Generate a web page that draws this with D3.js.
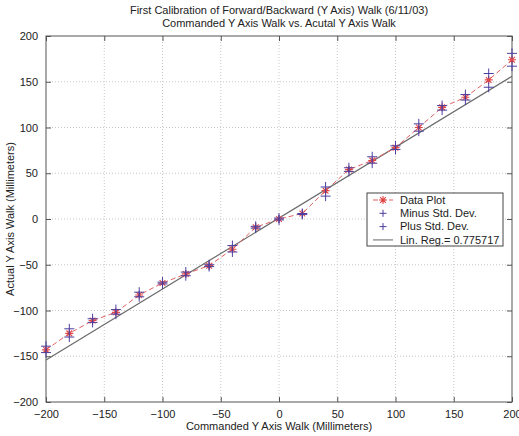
<!DOCTYPE html>
<meta charset="utf-8">
<script src="https://d3js.org/d3.v7.min.js"></script>
<style>
  body { margin: 0; background: #fff; }
  text { font-family: "Liberation Sans", Arial, sans-serif; fill: #222; }
</style>
<div id="my_dataviz"></div>
<script>

  // commanded walk (x) and measured walk (y), millimeters
  var commanded = [-200, -180, -160, -140, -120, -100, -80, -60, -40, -20, 0,
    20, 40, 60, 80, 100, 120, 140, 160, 180, 200];
  var actual = [-143, -125, -111, -102, -83, -70, -60, -51, -33, -9, 0,
    6, 31, 54, 64, 78, 100, 122, 133, 152, 174];
  var minusStd = [-146, -129, -113, -104, -85, -71, -62, -52, -36, -10, -1,
    5, 25, 52, 61, 76, 96, 119, 130, 144, 167];
  var plusStd = [-139, -120, -109, -99, -80, -69, -58, -50, -29, -8, 1,
    6, 35, 56, 68, 80, 104, 124, 136, 159, 181];
  // linear regression line end points
  var regX = [-200, 200];
  var regY = [-154, 156];

  var xTicks = [-200, -150, -100, -50, 0, 50, 100, 150, 200];
  var yTicks = [-200, -150, -100, -50, 0, 50, 100, 150, 200];
  var legendLabels = ["Data Plot", "Minus Std. Dev.", "Plus Std. Dev.", "Lin. Reg.= 0.775717"];

  var margin = { top: 36, right: 7, bottom: 34, left: 46 },
    width = 519 - margin.left - margin.right,
    height = 436 - margin.top - margin.bottom;

  var svgRoot = d3.select("#my_dataviz")
    .append("svg")
    .attr("width", 519)
    .attr("height", 436);

  var svg = svgRoot.append("g")
    .attr("transform", "translate(" + margin.left + "," + margin.top + ")");

  var x = d3.scaleLinear().domain([-200, 200]).range([0, width]);
  var y = d3.scaleLinear().domain([-200, 200]).range([height, 0]);

  // grid
  svg.append("g").selectAll("line").data(xTicks.slice(1, -1)).join("line")
    .attr("x1", d => x(d)).attr("x2", d => x(d))
    .attr("y1", 0).attr("y2", height)
    .attr("stroke", "#c8c8c8").attr("stroke-dasharray", "1,2");
  svg.append("g").selectAll("line").data(yTicks.slice(1, -1)).join("line")
    .attr("y1", d => y(d)).attr("y2", d => y(d))
    .attr("x1", 0).attr("x2", width)
    .attr("stroke", "#c8c8c8").attr("stroke-dasharray", "1,2");

  // axes with inward ticks on all sides
  function styleAxis(g) {
    g.select(".domain").remove();
    g.selectAll("line").attr("stroke", "#555");
    g.selectAll("text").attr("font-size", 11).attr("fill", "#222")
      .style("font-family", "Liberation Sans, Arial, sans-serif");
  }
  svg.append("g").attr("transform", "translate(0," + height + ")")
    .call(d3.axisBottom(x).tickValues(xTicks).tickSizeInner(-5).tickPadding(8))
    .call(styleAxis);
  svg.append("g")
    .call(d3.axisLeft(y).tickValues(yTicks).tickSizeInner(-5).tickPadding(8))
    .call(styleAxis);
  svg.append("g")
    .call(d3.axisTop(x).tickValues(xTicks).tickSizeInner(-5).tickFormat(""))
    .call(styleAxis);
  svg.append("g").attr("transform", "translate(" + width + ",0)")
    .call(d3.axisRight(y).tickValues(yTicks).tickSizeInner(-5).tickFormat(""))
    .call(styleAxis);
  svg.append("rect").attr("width", width).attr("height", height)
    .attr("fill", "none").attr("stroke", "#555");

  // regression line
  svg.append("path")
    .datum(regX.map((d, i) => [d, regY[i]]))
    .attr("fill", "none").attr("stroke", "#6a6a6a").attr("stroke-width", 1.2)
    .attr("d", d3.line().x(d => x(d[0])).y(d => y(d[1])));

  // data plot dashed line
  var pts = commanded.map((d, i) => [d, actual[i]]);
  svg.append("path")
    .datum(pts)
    .attr("fill", "none").attr("stroke", "#e06060").attr("stroke-width", 1)
    .attr("stroke-dasharray", "5,3")
    .attr("d", d3.line().x(d => x(d[0])).y(d => y(d[1])));

  function plus(g, cx, cy, s, color) {
    g.append("path")
      .attr("d", "M" + (cx - s) + "," + cy + "H" + (cx + s) + "M" + cx + "," + (cy - s) + "V" + (cy + s))
      .attr("stroke", color).attr("stroke-width", 1).attr("fill", "none");
  }
  function star(g, cx, cy, s, color) {
    var d = s * 0.72;
    g.append("path")
      .attr("d", "M" + (cx - s) + "," + cy + "H" + (cx + s) +
        "M" + cx + "," + (cy - s) + "V" + (cy + s) +
        "M" + (cx - d) + "," + (cy - d) + "L" + (cx + d) + "," + (cy + d) +
        "M" + (cx - d) + "," + (cy + d) + "L" + (cx + d) + "," + (cy - d))
      .attr("stroke", color).attr("stroke-width", 1.1).attr("fill", "none");
  }

  var marks = svg.append("g");
  commanded.forEach(function (c, i) {
    star(marks, x(c), y(actual[i]), 4, "#e04848");
  });
  commanded.forEach(function (c, i) {
    plus(marks, x(c), y(minusStd[i]), 5, "#4a3fa0");
    plus(marks, x(c), y(plusStd[i]), 5, "#4a3fa0");
  });

  // legend
  var lg = svgRoot.append("g").attr("transform", "translate(367,193)");
  lg.append("rect").attr("width", 136).attr("height", 53)
    .attr("fill", "#fff").attr("stroke", "#444");
  legendLabels.forEach(function (t, i) {
    var ly = 7 + i * 13.3;
    if (i === 0) {
      lg.append("line").attr("x1", 6).attr("x2", 26).attr("y1", ly).attr("y2", ly)
        .attr("stroke", "#e06060").attr("stroke-dasharray", "5,3");
      star(lg, 16, ly, 4, "#e04848");
    } else if (i < 3) {
      plus(lg, 16, ly, 3.5, "#4a3fa0");
    } else {
      lg.append("line").attr("x1", 6).attr("x2", 26).attr("y1", ly).attr("y2", ly)
        .attr("stroke", "#999").attr("stroke-width", 1.5);
    }
    lg.append("text").attr("x", 33).attr("y", ly).attr("dy", "0.35em")
      .attr("font-size", 11).text(t);
  });

  // titles
  svgRoot.append("text").attr("x", margin.left + width / 2).attr("y", 14)
    .attr("text-anchor", "middle").attr("font-size", 11)
    .text("First Calibration of Forward/Backward (Y Axis) Walk (6/11/03)");
  svgRoot.append("text").attr("x", margin.left + width / 2).attr("y", 27)
    .attr("text-anchor", "middle").attr("font-size", 11)
    .text("Commanded Y Axis Walk vs. Acutal Y Axis Walk");
  svgRoot.append("text").attr("x", margin.left + width / 2).attr("y", 430)
    .attr("text-anchor", "middle").attr("font-size", 11)
    .text("Commanded Y Axis Walk (Millimeters)");
  svgRoot.append("text")
    .attr("transform", "translate(14," + (margin.top + height / 2) + ") rotate(-90)")
    .attr("text-anchor", "middle").attr("font-size", 11)
    .text("Actual Y Axis Walk (Millimeters)");

</script>
